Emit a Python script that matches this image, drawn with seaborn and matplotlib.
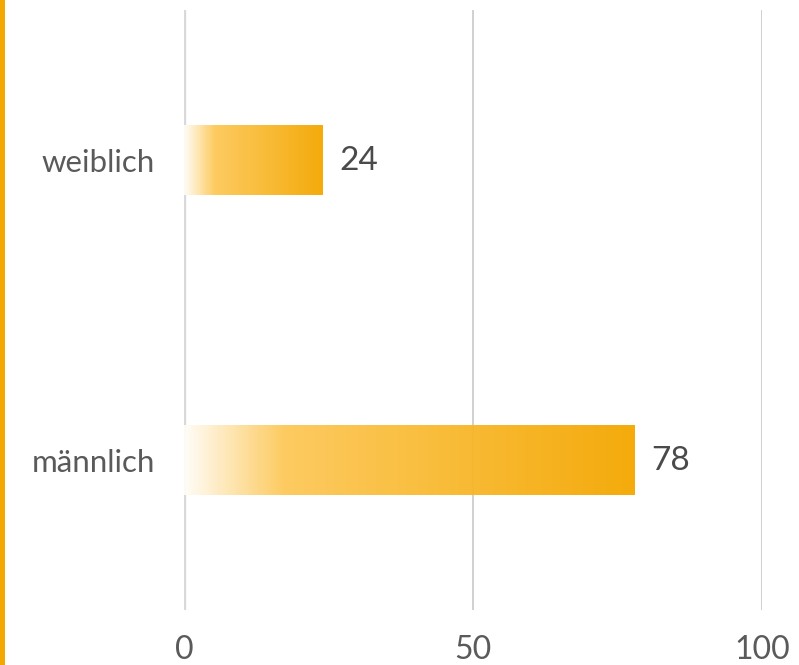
import matplotlib
matplotlib.use("Agg")
import matplotlib.pyplot as plt
import numpy as np
import pandas as pd
import seaborn as sns
from matplotlib.colors import LinearSegmentedColormap
from matplotlib.patches import Rectangle

categories = ["weiblich", "männlich"]
values = [24, 78]
x_ticks = [0, 50, 100]

sns.set_theme(style="white")
plt.rcParams["font.family"] = ["Lato", "DejaVu Sans"]

df = pd.DataFrame({"Geschlecht": categories, "Wert": values})

fig = plt.figure(figsize=(7.99, 6.65), dpi=100)
ax = fig.add_axes([184 / 799, 55 / 665, 578 / 799, 600 / 665])

sns.barplot(data=df, x="Wert", y="Geschlecht", orient="h", width=0.233,
            color="#f4a700", ax=ax, zorder=2)

cmap = LinearSegmentedColormap.from_list(
    "grad", [(0.0, "#fffdf8"), (0.22, "#fdc95a"), (1.0, "#f4a700")])
grad = np.linspace(0, 1, 256).reshape(1, -1)
for p in ax.patches:
    x0, y0 = p.get_x(), p.get_y()
    w, h = p.get_width(), p.get_height()
    ax.imshow(grad, cmap=cmap, extent=[x0, x0 + w, y0 + h, y0],
              aspect="auto", zorder=2, alpha=0.96, interpolation="bilinear")
    p.set_facecolor("none")
    p.set_edgecolor("none")
    ax.annotate(f"{w:.0f}", xy=(x0 + w, y0 + h / 2), xytext=(12, -1),
                textcoords="offset points", va="center", ha="left",
                fontsize=24, color="#4a4a4a")

ax.set_xlim(0, 100)
ax.set_ylim(1.5, -0.5)
ax.set_xticks(x_ticks)
ax.set_xticklabels([str(t) for t in x_ticks])
ax.set_yticks(range(len(categories)))
ax.set_yticklabels(categories)
ax.set_xlabel("")
ax.set_ylabel("")
for s in ax.spines.values():
    s.set_visible(False)
ax.tick_params(axis="x", length=0, pad=18, labelsize=23, labelcolor="#5a5a5a")
ax.tick_params(axis="y", length=0, pad=21, labelsize=22.5, labelcolor="#5a5a5a")

ax.grid(axis="x", color="#c8c8c8", linewidth=1.2, zorder=0)
ax.grid(axis="y", visible=False)
ax.set_axisbelow(True)
gl = ax.get_xgridlines()
gl[0].set_color("#d9d9d9")
gl[0].set_linewidth(2.4)

fig.patches.append(Rectangle((0, 0), 5 / 799, 1, transform=fig.transFigure,
                             facecolor="#f4a700", edgecolor="none"))

fig.savefig("out.png", dpi=100)
